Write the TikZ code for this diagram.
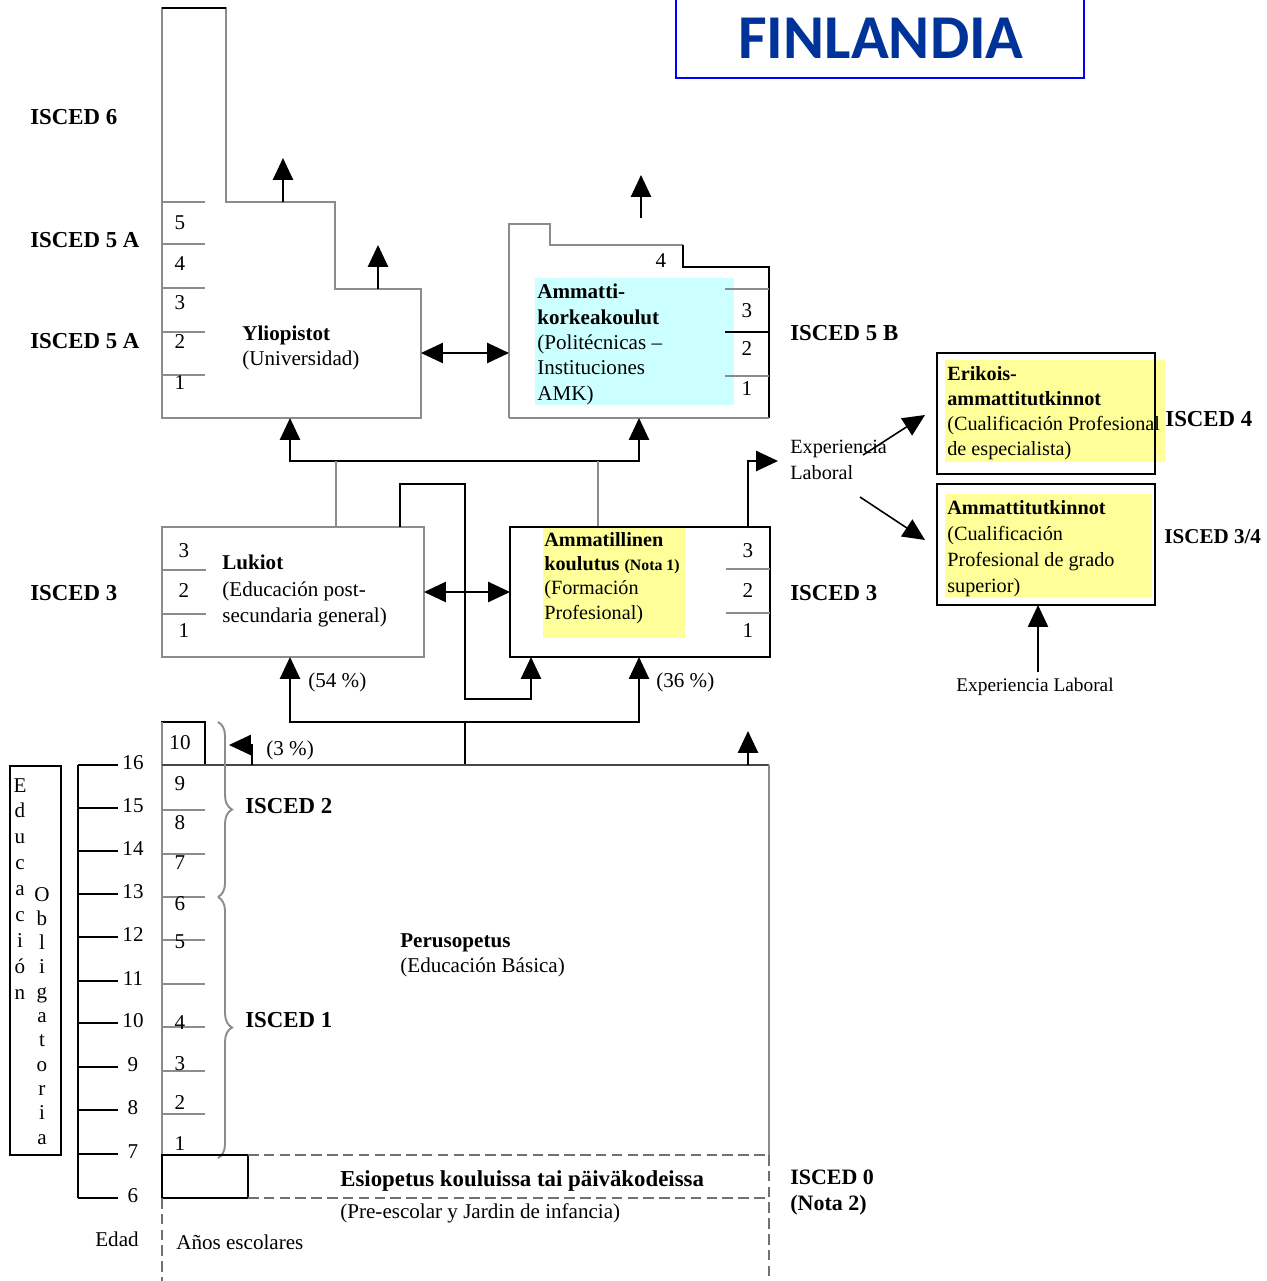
\documentclass[tikz,border=0pt]{standalone}
\usepackage{fontspec}
\setmainfont{Liberation Serif}
\newfontfamily\titlefont{Carlito}
\usetikzlibrary{arrows.meta,calc,positioning}
\usetikzlibrary{decorations.pathreplacing}
\definecolor{titleblue}{RGB}{0,51,153}
\definecolor{amkcyan}{RGB}{204,255,255}
\definecolor{fpyellow}{RGB}{255,255,153}
\definecolor{lgrey}{RGB}{140,140,140}

\tikzset{
  gline/.style = {draw=lgrey, line width=1.1pt},
  bline/.style = {draw=black, line width=1.1pt},
  dline/.style = {draw=lgrey!80!black, line width=1.1pt, dash pattern=on 6pt off 3pt},
  tip/.style = {-{Triangle[length=12.5pt,width=11.5pt]}},
  tiptwo/.style = {{Triangle[length=12.5pt,width=11.5pt]}-{Triangle[length=12.5pt,width=11.5pt]}},
  lbl/.style = {anchor=base west, inner sep=0pt, font=\fontsize{12}{14}\selectfont},
  isced/.style = {anchor=base west, inner sep=0pt, font=\bfseries\fontsize{13}{15}\selectfont},
  txt/.style = {anchor=north west, inner sep=0pt, align=left, font=\fontsize{12}{14.2}\selectfont},
  smtxt/.style = {txt, font=\fontsize{11.5}{13.8}\selectfont},
  num/.style = {anchor=base, inner sep=0pt, font=\fontsize{12}{14}\selectfont},
  bracebox/.style = {draw=lgrey, line width=1.1pt, decorate, decoration={brace, amplitude=8pt}}
}

\begin{document}
\begin{tikzpicture}[x=0.02cm,y=-0.02cm]
\useasboundingbox (0,0) rectangle (1267,1281);
%
% title
\draw[draw=blue, line width=1.2pt] (676,-5) rectangle (1084,78);
\node[font=\titlefont\bfseries\fontsize{35.5}{38}\selectfont, text=titleblue] (title) at (881,38) {FINLANDIA};
%
% isced levels, left side
\node[isced] (iscedsix) at (30,124) {ISCED 6};
\node[isced] (iscedfiveA) at (30,247) {ISCED 5 A};
\node[isced] (iscedfiveAA) at (30,348) {ISCED 5 A};
\node[isced] (iscedthreeL) at (30,600) {ISCED 3};
%
% Yliopistot
\draw[gline] (162,8) -- (226,8) -- (226,202) -- (335,202) -- (335,289) -- (421,289) -- (421,418) -- (162,418) -- cycle;
\draw[bline] (162,8) -- (226,8);
\foreach \y in {202,244,288,332,375}
   \draw[gline] (162,\y) -- (205,\y);
\foreach \n/\y in {5/229,4/270,3/309,2/348,1/389}
   \node[num] (ylnum\n) at (180,\y) {\n};
\node[txt] (ylio) at (242,326) {\textbf{Yliopistot}\\(Universidad)};
% output arrows
\coordinate (ylioout) at (283,202);
\coordinate (ylioend) at (283,158);
\draw[bline,tip] (ylioout) -- (ylioend);
\coordinate (yliooutb) at (378,289);
\coordinate (ylioendb) at (378,245);
\draw[bline,tip] (yliooutb) -- (ylioendb);
%
% Ammattikorkeakoulut
\fill[amkcyan] (535,278) rectangle (734,405);
\draw[gline] (509,418) -- (509,224) -- (550,224) -- (550,245) -- (683,245);
\draw[bline] (683,245) -- (683,267) -- (769,267) -- (769,418);
\draw[gline] (769,418) -- (509,418);
\draw[gline] (725,289) -- (769,289);
\draw[bline] (725,332) -- (769,332);
\draw[gline] (725,376) -- (769,376);
\node[num] (amknumfour) at (661,267) {4};
\foreach \n/\y in {3/317,2/355,1/395}
   \node[num] (amknum\n) at (747,\y) {\n};
\node[txt, font=\fontsize{12}{14.4}\selectfont] (amk) at (537,284) {\textbf{Ammatti-}\\\textbf{korkeakoulut}\\(Politécnicas --\\Instituciones\\AMK)};
\coordinate (amkout) at (641,218);
\coordinate (amkend) at (641,175);
\draw[bline,tip] (amkout) -- (amkend);
% connection between universities
\coordinate (ylioright) at (421,353);
\coordinate (amkleft) at (509,353);
\draw[bline,tiptwo] (ylioright) -- (amkleft);
%
% from isced 3 to isced 5
\coordinate (yliobottom) at (290,418);
\coordinate (amkbottom) at (639,418);
\draw[bline,tiptwo] (yliobottom) -- (290,461) -- (639,461) -- (amkbottom);
\coordinate (lukiotop) at (336,527);
\coordinate (ammtop) at (598,527);
\draw[gline] (lukiotop) -- (336,461);
\draw[gline] (ammtop) -- (598,461);
%
% Lukiot
\draw[gline] (162,527) rectangle (424,657);
\foreach \y in {570,614}
   \draw[gline] (162,\y) -- (206,\y);
\foreach \n/\y in {3/557,2/597,1/637}
   \node[num] (luknum\n) at (184,\y) {\n};
\node[txt, font=\fontsize{12}{15}\selectfont] (lukiot) at (222,555) {\textbf{Lukiot}\\(Educación post-\\secundaria general)};
% Lukiot to Ammatillinen
\coordinate (lukiotopb) at (400,527);
\coordinate (ammbottomb) at (531,657);
\draw[bline,tip] (lukiotopb) -- (400,484) -- (465,484) -- (465,699) -- (531,699) -- (ammbottomb);
\coordinate (lukioright) at (424,592);
\coordinate (ammleft) at (510,592);
\draw[bline,tiptwo] (lukioright) -- (ammleft);
%
% Ammatillinen koulutus
\fill[fpyellow] (543,528) rectangle (685,638);
\draw[bline] (510,527) rectangle (770,657);
\foreach \y in {569,613}
   \draw[gline] (726,\y) -- (770,\y);
\foreach \n/\y in {3/557,2/597,1/637}
   \node[num] (ammnum\n) at (748,\y) {\n};
\node[smtxt] (ammk) at (544,532) {\textbf{Ammatillinen}\\\textbf{koulutus} {\bfseries\fontsize{9}{10}\selectfont(Nota 1)}\\(Formación\\Profesional)};
\node[isced] (iscedthreeR) at (790,600) {ISCED 3};
\node[isced] (iscedfiveB) at (790,340) {ISCED 5 B};
%
% work experience
\coordinate (ammtopb) at (748,527);
\coordinate (expin) at (778,461);
\draw[bline,tip] (ammtopb) -- (748,461) -- (expin);
\node[smtxt, font=\fontsize{11.5}{14.7}\selectfont] (exp) at (790,440) {Experiencia\\Laboral};
\coordinate (expup) at (863,455);
\coordinate (erikin) at (925,415);
\draw[line width=0.9pt,tip] (expup) -- (erikin);
\coordinate (expdown) at (860,497);
\coordinate (ammtin) at (925,540);
\draw[line width=0.9pt,tip] (expdown) -- (ammtin);
%
% Erikoisammattitutkinnot
\fill[fpyellow] (945,360) rectangle (1165,462);
\draw[bline] (937,353) rectangle (1155,474);
\node[smtxt, font=\fontsize{11.5}{14.3}\selectfont] (erik) at (947,366) {\textbf{Erikois-}\\\textbf{ammattitutkinnot}\\(Cualificación Profesional\\de especialista)};
\node[isced] (iscedfour) at (1165,426) {ISCED 4};
%
% Ammattitutkinnot
\fill[fpyellow] (945,494) rectangle (1152,597);
\draw[bline] (937,484) rectangle (1155,605);
\node[smtxt, font=\fontsize{11.5}{14.9}\selectfont] (ammt) at (947,500) {\textbf{Ammattitutkinnot}\\(Cualificación\\Profesional de grado\\superior)};
\node[isced, font=\bfseries\fontsize{12}{14}\selectfont] (iscedthreefour) at (1164,543) {ISCED 3/4};
\coordinate (ammtbottom) at (1038,605);
\coordinate (expbelow) at (1038,672);
\draw[line width=0.9pt,tip] (expbelow) -- (ammtbottom);
\node[anchor=base, inner sep=0pt, font=\fontsize{11}{13}\selectfont] (expb) at (1035,691) {Experiencia Laboral};
%
% percentages
\node[lbl] (pctluk) at (308,687) {(54 \%)};
\node[lbl] (pctamm) at (656,687) {(36 \%)};
\node[lbl] (pctten) at (266,755) {(3 \%)};
%
% from basic education to isced 3
\coordinate (lukiobottom) at (290,657);
\coordinate (ammbottom) at (639,657);
\coordinate (perustop) at (465,765);
\draw[bline,tiptwo] (lukiobottom) -- (290,722) -- (639,722) -- (ammbottom);
\draw[bline] (perustop) -- (465,722);
%
% Perusopetus
\draw[bline] (162,765) -- (162,722) -- (205,722) -- (205,765);
\node[num] (numten) at (180,749) {10};
\draw[gline] (162,722) -- (162,1155);
\draw[line width=1.1pt, draw=lgrey!50!black] (162,765) -- (769,765);
\draw[gline] (769,765) -- (769,1155);
\foreach \y in {810,854,897,940,984,1027,1071,1114}
   \draw[gline] (162,\y) -- (205,\y);
\foreach \n/\y in {9/790,8/829,7/869,6/910,5/948,4/1029,3/1070,2/1109,1/1150}
   \node[num] (grade\n) at (180,\y) {\n};
\coordinate (tenth) at (252,765);
\coordinate (tenthend) at (229,745);
\draw[bline,tip] (tenth) -- (252,745) -- (tenthend);
\coordinate (perusright) at (748,765);
\coordinate (perusend) at (748,731);
\draw[bline,tip] (perusright) -- (perusend);
\node[txt] (perus) at (400,933) {\textbf{Perusopetus}\\(Educación Básica)};
% braces
\draw[bracebox] (218,722) -- (218,897);
\draw[bracebox] (218,897) -- (218,1158);
\node[isced] (iscedtwo) at (245,813) {ISCED 2};
\node[isced] (iscedone) at (245,1027) {ISCED 1};
%
% Esiopetus
\draw[bline] (162,1155) rectangle (248,1198);
\draw[dline] (248,1155) -- (769,1155);
\draw[dline] (248,1198) -- (769,1198);
\draw[dline] (769,1155) -- (769,1281);
\draw[dline] (162,1198) -- (162,1281);
\node[lbl, font=\bfseries\fontsize{13}{15}\selectfont] (esio) at (340,1186) {Esiopetus kouluissa tai päiväkodeissa};
\node[lbl] (preesc) at (340,1218) {(Pre-escolar y Jardin de infancia)};
\node[txt, font=\bfseries\fontsize{12.5}{14.6}\selectfont] (iscedzero) at (790,1170) {ISCED 0\\(Nota 2)};
%
% age scale
\draw[bline] (78,765) -- (78,1198);
\foreach \a/\y in {16/765,15/808,14/851,13/894,12/937,11/981,10/1023,9/1067,8/1110,7/1154,6/1198}{
   \draw[bline] (78,\y) -- (118,\y);
   \node[num] (age\a) at (133,{\y+4}) {\a};
}
\node[num] (edad) at (117,1246) {Edad};
\node[lbl] (anos) at (176,1249) {Años escolares};
%
% compulsory education
\draw[bline] (10,766) rectangle (61,1155);
\foreach \c [count=\i from 0] in {E,d,u,c,a,c,i,ó,n}
   \node[num] (edu\i) at (20,{792+\i*25.9}) {\c};
\foreach \c [count=\i from 0] in {O,b,l,i,g,a,t,o,r,i,a}
   \node[num] (obl\i) at (42,{901+\i*24.3}) {\c};
\end{tikzpicture}
\end{document}
